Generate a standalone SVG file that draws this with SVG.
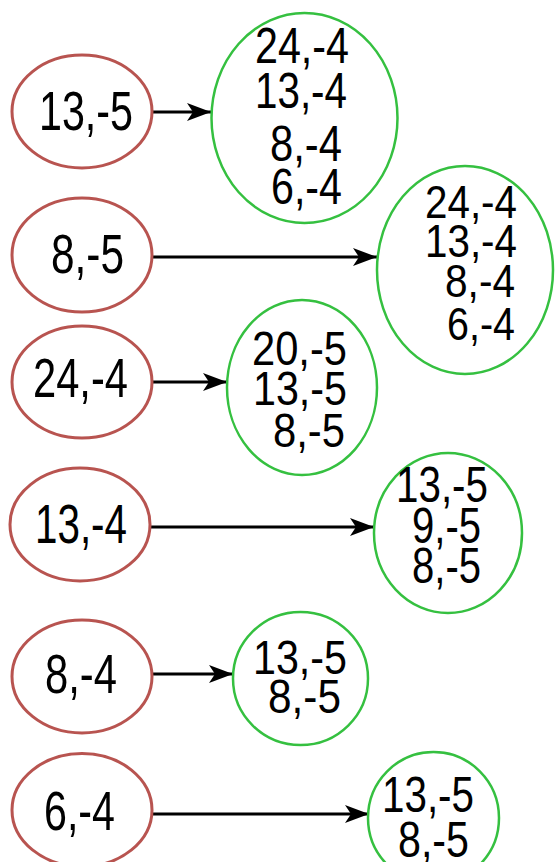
<svg xmlns="http://www.w3.org/2000/svg" width="555" height="862" viewBox="0 0 555 862">
<style>
.src{fill:#ffffff;stroke:#b85450;stroke-width:3}
.dst{fill:#ffffff;stroke:#35c040;stroke-width:2.5}
.t{font-family:"Liberation Sans",Arial,sans-serif;fill:#000000}
.r{font-size:56px}
.g{font-size:49px}
.e{fill:none;stroke:#000000;stroke-width:3}
</style>
<defs>
<marker id="ah" markerUnits="userSpaceOnUse" markerWidth="26" markerHeight="20" refX="24" refY="9" orient="auto">
<path d="M0,0 L24,9 L0,18 L6,9 Z" fill="#000000"/>
</marker>
</defs>
<rect width="555" height="862" fill="#ffffff"/>
<g id="edges">
<line class="e" x1="153" y1="112" x2="211" y2="112" marker-end="url(#ah)"/>
<line class="e" x1="153" y1="257" x2="377" y2="257" marker-end="url(#ah)"/>
<line class="e" x1="153" y1="382" x2="227" y2="382" marker-end="url(#ah)"/>
<line class="e" x1="150" y1="527" x2="374" y2="527" marker-end="url(#ah)"/>
<line class="e" x1="153" y1="674" x2="233" y2="674" marker-end="url(#ah)"/>
<line class="e" x1="153" y1="814" x2="369" y2="814" marker-end="url(#ah)"/>
</g>
<g id="s1"><ellipse class="src" cx="82" cy="111.5" rx="70" ry="56.5"/><text class="t r" x="39" y="130" textLength="94" lengthAdjust="spacingAndGlyphs">13,-5</text></g>
<g id="s2"><ellipse class="src" cx="82" cy="255" rx="70" ry="57"/><text class="t r" x="51" y="273" textLength="73" lengthAdjust="spacingAndGlyphs">8,-5</text></g>
<g id="s3"><ellipse class="src" cx="82" cy="382" rx="70" ry="56"/><text class="t r" x="33" y="397" textLength="95" lengthAdjust="spacingAndGlyphs">24,-4</text></g>
<g id="s4"><ellipse class="src" cx="80" cy="524.5" rx="70" ry="56.5"/><text class="t r" x="35" y="543" textLength="92" lengthAdjust="spacingAndGlyphs">13,-4</text></g>
<g id="s5"><ellipse class="src" cx="82" cy="676.5" rx="70" ry="56.5"/><text class="t r" x="45" y="693" textLength="72" lengthAdjust="spacingAndGlyphs">8,-4</text></g>
<g id="s6"><ellipse class="src" cx="82" cy="810" rx="70" ry="56.5"/><text class="t r" x="44" y="830" textLength="71" lengthAdjust="spacingAndGlyphs">6,-4</text></g>
<g id="d1"><ellipse class="dst" cx="304.5" cy="118" rx="93" ry="105"/>
<text class="t" font-size="50" x="255" y="63" textLength="94" lengthAdjust="spacingAndGlyphs">24,-4</text>
<text class="t" font-size="50" x="255" y="108" textLength="92" lengthAdjust="spacingAndGlyphs">13,-4</text>
<text class="t" font-size="50" x="270" y="161" textLength="72" lengthAdjust="spacingAndGlyphs">8,-4</text>
<text class="t" font-size="50" x="271" y="204" textLength="71" lengthAdjust="spacingAndGlyphs">6,-4</text></g>
<g id="d2"><ellipse class="dst" cx="465" cy="270" rx="88" ry="104"/>
<text class="t" font-size="46" x="425" y="218" textLength="92" lengthAdjust="spacingAndGlyphs">24,-4</text>
<text class="t" font-size="46" x="425" y="257" textLength="92" lengthAdjust="spacingAndGlyphs">13,-4</text>
<text class="t" font-size="46" x="445" y="297" textLength="70" lengthAdjust="spacingAndGlyphs">8,-4</text>
<text class="t" font-size="46" x="447" y="340" textLength="68" lengthAdjust="spacingAndGlyphs">6,-4</text></g>
<g id="d3"><ellipse class="dst" cx="302" cy="387.5" rx="75" ry="87.5"/>
<text class="t g" x="252" y="365" textLength="95" lengthAdjust="spacingAndGlyphs">20,-5</text>
<text class="t g" x="253" y="405" textLength="94" lengthAdjust="spacingAndGlyphs">13,-5</text>
<text class="t g" x="273" y="447" textLength="72" lengthAdjust="spacingAndGlyphs">8,-5</text></g>
<g id="d4"><ellipse class="dst" cx="448" cy="533" rx="74" ry="80"/>
<text class="t" font-size="50" x="396" y="502" textLength="92" lengthAdjust="spacingAndGlyphs">13,-5</text>
<text class="t" font-size="50" x="412" y="543" textLength="69" lengthAdjust="spacingAndGlyphs">9,-5</text>
<text class="t" font-size="50" x="412" y="583" textLength="69" lengthAdjust="spacingAndGlyphs">8,-5</text></g>
<g id="d5"><ellipse class="dst" cx="300.5" cy="678.5" rx="67.5" ry="66.5"/>
<text class="t g" x="253" y="674" textLength="94" lengthAdjust="spacingAndGlyphs">13,-5</text>
<text class="t g" x="268" y="713" textLength="73" lengthAdjust="spacingAndGlyphs">8,-5</text></g>
<g id="d6"><ellipse class="dst" cx="433.5" cy="818" rx="65.5" ry="66"/>
<text class="t" font-size="50" x="382" y="812" textLength="92" lengthAdjust="spacingAndGlyphs">13,-5</text>
<text class="t" font-size="50" x="398" y="857" textLength="71" lengthAdjust="spacingAndGlyphs">8,-5</text></g>
</svg>
